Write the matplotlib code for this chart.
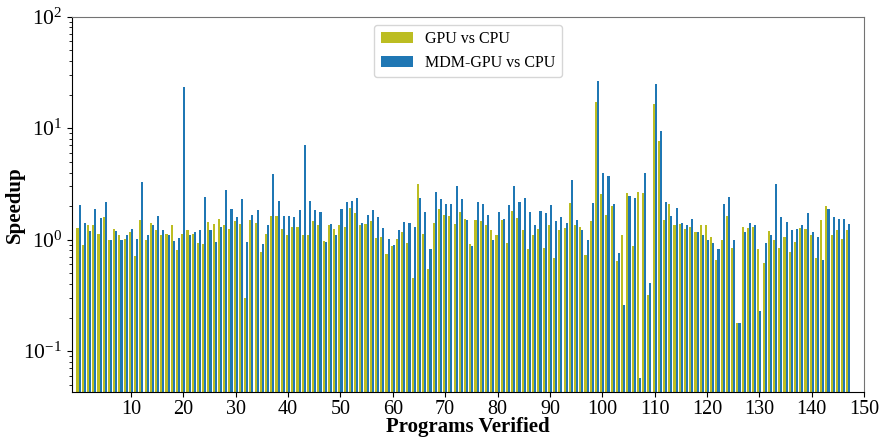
import numpy as np
import matplotlib
matplotlib.use("Agg")
import matplotlib.pyplot as plt

plt.rcParams['font.family'] = ['Liberation Serif', 'DejaVu Serif']
plt.rcParams['mathtext.fontset'] = 'stix'

# speedup per verified program (0..147)
gpu_vs_cpu = [
    1.27, 0.90, 1.34, 1.34, 1.13, 1.61, 1.00, 1.25, 1.09, 1.02,
    1.16, 0.72, 1.51, 1.00, 1.42, 1.23, 1.11, 1.13, 1.36, 0.81,
    1.13, 1.23, 1.13, 0.94, 0.92, 1.45, 1.39, 1.54, 1.36, 1.25,
    1.48, 1.39, 0.30, 1.51, 1.42, 0.78, 1.13, 1.64, 1.64, 1.25,
    1.11, 1.31, 1.31, 1.09, 1.11, 1.48, 1.36, 0.98, 1.34, 1.25,
    1.36, 1.31, 1.93, 1.75, 1.34, 1.39, 1.48, 1.04, 1.06, 0.75,
    0.87, 1.02, 1.16, 0.94, 0.45, 3.17, 1.13, 0.55, 1.42, 1.90,
    1.67, 1.64, 1.39, 1.78, 1.54, 0.92, 1.51, 1.48, 1.36, 1.23,
    1.09, 1.51, 0.94, 1.82, 1.57, 1.23, 0.83, 1.09, 1.25, 0.85,
    1.36, 0.69, 1.23, 1.28, 2.15, 1.34, 1.31, 0.73, 1.48, 17.2,
    2.58, 1.67, 2.02, 0.64, 1.11, 2.64, 0.88, 2.69, 2.64, 0.32,
    16.5, 7.70, 1.51, 2.10, 1.34, 1.39, 1.25, 1.31, 1.18, 1.34,
    1.36, 1.06, 0.66, 1.00, 1.64, 0.85, 0.18, 1.31, 1.28, 1.31,
    0.83, 0.62, 1.20, 1.00, 0.85, 1.06, 0.78, 0.96, 1.28, 1.25,
    1.11, 0.69, 1.51, 2.02, 1.11, 1.23, 1.02, 1.23,
]
mdm_gpu_vs_cpu = [
    2.06, 1.41, 1.20, 1.90, 1.56, 2.19, 1.00, 1.20, 1.00, 1.09,
    1.25, 1.02, 3.31, 1.09, 1.36, 1.64, 1.23, 1.11, 0.98, 1.04,
    23.4, 1.11, 1.18, 1.23, 2.43, 1.23, 0.96, 1.31, 2.80, 1.90,
    1.61, 2.33, 0.96, 1.67, 1.86, 0.92, 1.34, 3.90, 2.24, 1.64,
    1.64, 1.61, 1.86, 7.09, 2.24, 1.86, 1.78, 0.96, 1.39, 1.11,
    1.90, 2.19, 2.24, 2.38, 1.42, 1.67, 1.86, 1.61, 1.28, 1.02,
    0.90, 1.23, 1.45, 1.42, 1.31, 2.38, 1.78, 0.83, 2.69, 2.33,
    2.10, 2.10, 3.05, 2.33, 1.51, 0.87, 2.19, 2.10, 1.67, 1.00,
    1.78, 1.54, 2.06, 3.05, 2.19, 2.38, 1.78, 1.36, 1.82, 1.75,
    2.06, 1.48, 1.61, 1.42, 3.45, 1.51, 1.23, 1.00, 2.15, 26.5,
    3.98, 3.74, 2.10, 0.76, 0.26, 2.48, 2.38, 0.058, 3.98, 0.41,
    24.9, 9.46, 2.19, 1.64, 1.93, 1.42, 1.34, 1.54, 1.18, 1.09,
    1.00, 0.94, 0.83, 2.10, 2.43, 1.00, 0.18, 1.18, 1.42, 1.36,
    0.23, 0.94, 1.09, 3.17, 1.61, 1.45, 1.23, 1.25, 1.36, 1.75,
    1.18, 1.06, 0.66, 1.90, 1.61, 1.54, 1.54, 1.39,
]
x_ticks = list(range(10, 151, 10))

x = np.arange(len(gpu_vs_cpu))
width = 0.4

fig = plt.figure(figsize=(8.89, 4.38), dpi=100)
ax = fig.add_axes([0.081, 0.105, 0.891, 0.857])

ax.bar(x - width / 2, gpu_vs_cpu, width, color='#bcbd22', label='GPU vs CPU')
ax.bar(x + width / 2, mdm_gpu_vs_cpu, width, color='#1f77b4', label='MDM-GPU vs CPU')

ax.set_yscale('log')
ax.set_ylim(0.043, 100)
ax.set_xlim(-1.25, 150)
ax.set_xticks(x_ticks)
ax.tick_params(axis='x', labelsize=14.5, pad=2)
ax.tick_params(axis='y', labelsize=15.5)

ax.set_xlabel('Programs Verified', fontsize=15, fontweight='bold', labelpad=-1)
ax.set_ylabel('Speedup', fontsize=15, fontweight='bold')
ax.yaxis.set_label_coords(-0.06, 0.5)

for side in ['top', 'right']:
    ax.spines[side].set_color('0.45')

ax.legend(loc='upper center', fontsize=11.5)

fig.savefig('out.png', dpi=100)
